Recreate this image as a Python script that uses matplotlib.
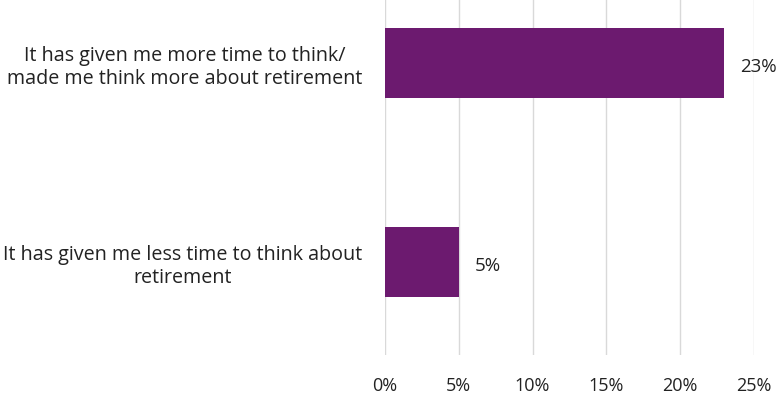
import numpy as np
import matplotlib.pyplot as plt

plt.rcParams['font.family'] = ['Open Sans', 'DejaVu Sans']

labels = ["It has given me more time to think/\nmade me think more about retirement",
          "It has given me less time to think about\nretirement"]
values = [23, 5]
xticks = [0, 5, 10, 15, 20, 25]

bar_color = '#6c1a6f'
text_color = '#222222'

fig = plt.figure(figsize=(7.82, 3.98), dpi=100)
ax = fig.add_axes([0.4923, 0.108, 0.4719, 0.892])

pos = np.arange(len(labels))
ax.barh(pos, values, height=0.352, color=bar_color, zorder=3)

for p, v in zip(pos, values):
    ax.text(v + 1.05, p + 0.02, f"{v}%", va='center', ha='left',
            fontsize=13.5, color=text_color)

ax.set_xlim(0, 25)
ax.set_ylim(1.467, -0.317)
ax.set_xticks(xticks)
ax.set_xticklabels([f"{t}%" for t in xticks], fontsize=13, color=text_color)
ax.set_yticks(pos)
ax.set_yticklabels(labels, fontsize=14.2, color=text_color, multialignment='center',
                   linespacing=1.22)

ax.grid(axis='x', color='#d9d9d9', linewidth=1, zorder=0)
ax.tick_params(axis='both', length=0)
ax.tick_params(axis='y', pad=16.5)
ax.tick_params(axis='x', pad=16)
for s in ax.spines.values():
    s.set_visible(False)

fig.savefig('out.png', dpi=100)
